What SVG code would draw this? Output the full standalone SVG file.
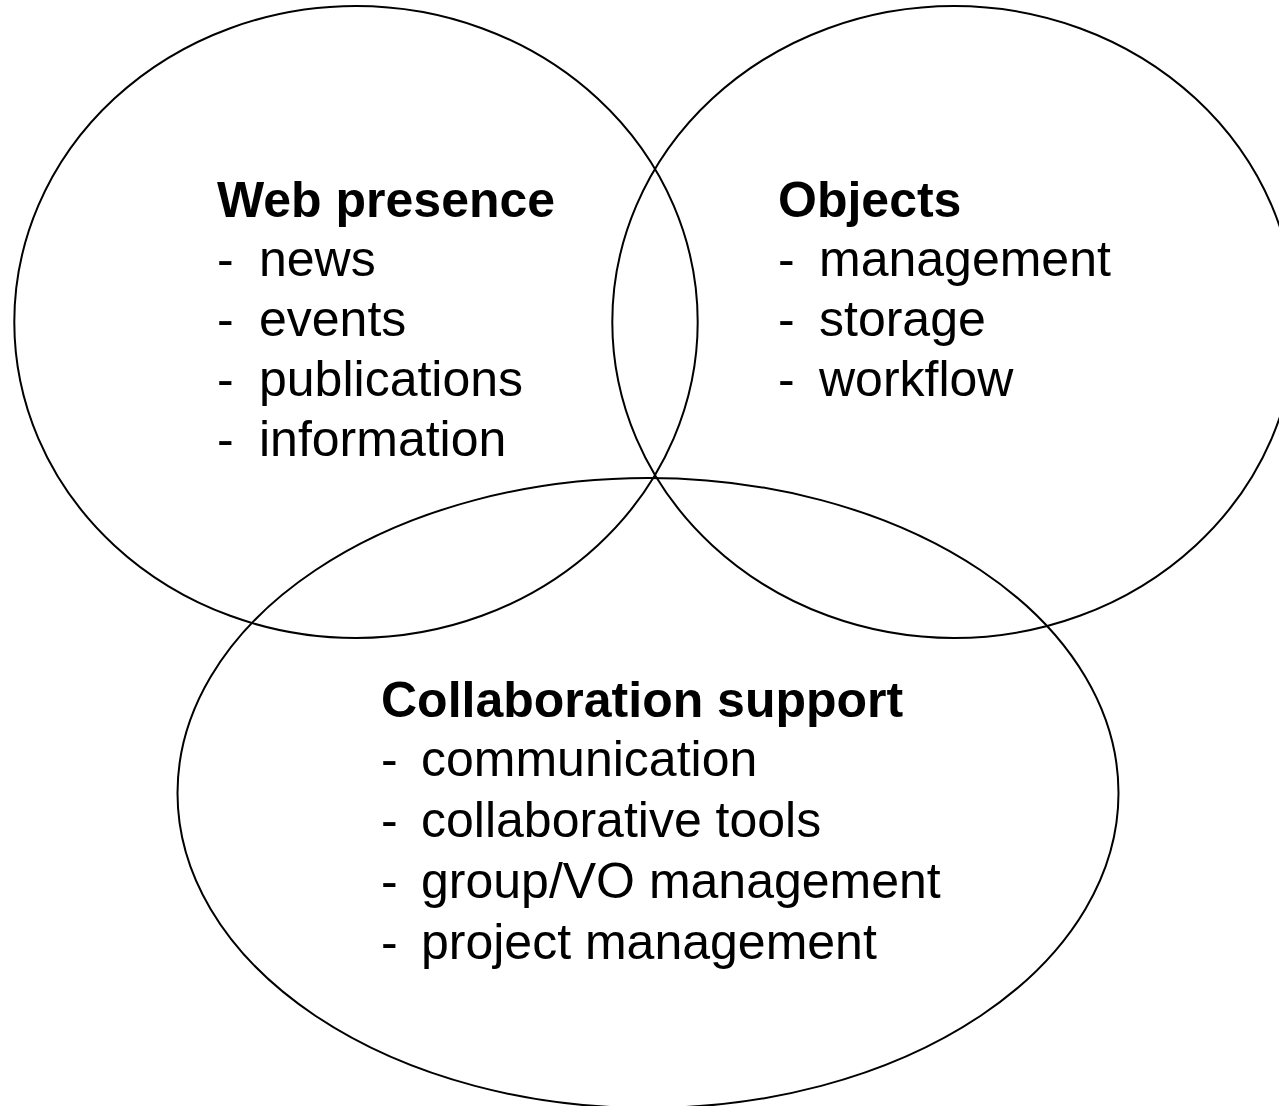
<svg xmlns="http://www.w3.org/2000/svg" width="1279" height="1106" viewBox="0 0 1279 1106">
<style>
.shape{fill:none;stroke:#000;stroke-width:2}
.t{font-family:"Liberation Sans",Arial,sans-serif;font-size:50px;fill:#000}
.b{font-weight:bold}
</style>
<rect width="1279" height="1106" fill="#fff"/>
<g id="web-presence">
<ellipse class="shape" cx="356" cy="322" rx="341.7" ry="316"/>
<text class="t b" x="217" y="217">Web presence</text>
<text class="t" x="217" y="276">-</text><text class="t" x="259" y="276">news</text>
<text class="t" x="217" y="336">-</text><text class="t" x="259" y="336">events</text>
<text class="t" x="217" y="396">-</text><text class="t" x="259" y="396">publications</text>
<text class="t" x="217" y="456">-</text><text class="t" x="259" y="456">information</text>
</g>
<g id="objects">
<ellipse class="shape" cx="954" cy="322" rx="341.7" ry="316"/>
<text class="t b" x="778" y="217">Objects</text>
<text class="t" x="778" y="276">-</text><text class="t" x="819" y="276">management</text>
<text class="t" x="778" y="336">-</text><text class="t" x="819" y="336">storage</text>
<text class="t" x="778" y="396">-</text><text class="t" x="819" y="396">workflow</text>
</g>
<g id="collaboration-support">
<ellipse class="shape" cx="648" cy="793" rx="470.5" ry="315"/>
<text class="t b" x="381" y="717">Collaboration support</text>
<text class="t" x="381" y="776">-</text><text class="t" x="421" y="776">communication</text>
<text class="t" x="381" y="837">-</text><text class="t" x="421" y="837">collaborative tools</text>
<text class="t" x="381" y="898">-</text><text class="t" x="421" y="898">group/VO management</text>
<text class="t" x="381" y="959">-</text><text class="t" x="421" y="959">project management</text>
</g>
<g id="connectors"></g>
</svg>
